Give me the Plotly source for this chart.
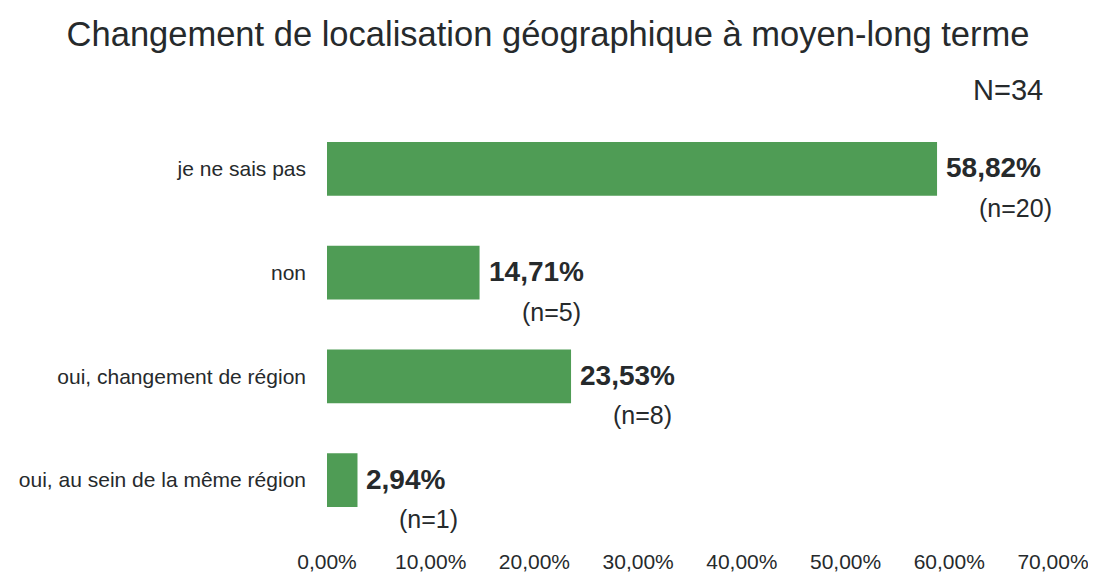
import plotly.graph_objects as go

# categories from bottom to top (plotly draws the first category at the bottom)
categories = ['oui, au sein de la même région', 'oui, changement de région',
              'non', 'je ne sais pas']
percentages = [2.94, 23.53, 14.71, 58.82]
counts = [1, 8, 5, 20]
total_n = 34

tick_values = [0, 10, 20, 30, 40, 50, 60, 70]
tick_labels = ['0,00%', '10,00%', '20,00%', '30,00%', '40,00%', '50,00%', '60,00%', '70,00%']

GREEN = '#4f9c55'
TEXT = '#262a2c'
FONT = 'Liberation Sans, Arial, sans-serif'

fig = go.Figure()
fig.add_trace(go.Bar(x=percentages, y=categories, orientation='h',
                     marker=dict(color=GREEN, line=dict(width=0)),
                     width=0.52, hoverinfo='skip'))

# value labels: bold percentage next to the bar, count below it
for pct, cnt, cat in zip(percentages, counts, categories):
    fig.add_annotation(x=pct, y=cat, xref='x', yref='y',
                       text='<b>' + f'{pct:.2f}'.replace('.', ',') + '%</b>',
                       showarrow=False, xanchor='left', yanchor='middle',
                       xshift=7, yshift=1, font=dict(size=28, color=TEXT, family=FONT))
    fig.add_annotation(x=pct, y=cat, xref='x', yref='y',
                       text=f'(n={cnt})',
                       showarrow=False, xanchor='left', yanchor='middle',
                       xshift=40, yshift=-39, font=dict(size=25, color=TEXT, family=FONT))

# sample size, top right above the plot area
fig.add_annotation(x=1.0, y=1.0, xref='paper', yref='paper', xanchor='right',
                   yanchor='middle', yshift=27, xshift=-8, text=f'N={total_n}',
                   showarrow=False, font=dict(size=29, color=TEXT, family=FONT))

# the page adds an 8px body margin, so the figure is 16px smaller than the window
fig.update_layout(
    width=1080, height=564,
    margin=dict(l=319, r=35, t=109, b=40),
    paper_bgcolor='white', plot_bgcolor='white',
    showlegend=False,
    font=dict(family=FONT, color=TEXT),
    title=dict(text='Changement de localisation géographique à moyen-long terme',
               x=0.5, xref='container', xanchor='center',
               y=0.954, yref='container', yanchor='middle',
               font=dict(size=34.5, color=TEXT, family=FONT)),
    xaxis=dict(range=[0, 70], tickvals=tick_values, ticktext=tick_labels,
               showgrid=False, zeroline=False, showline=False, ticks='',
               automargin=False, ticklabeloverflow='allow',
               ticklabelstandoff=15, tickfont=dict(size=21, color=TEXT)),
    yaxis=dict(range=[-0.5, 3.5], showgrid=False, zeroline=False, showline=False,
               ticks='', automargin=False,
               ticklabelstandoff=20, tickfont=dict(size=21, color=TEXT)),
)

fig.write_html('out.html')
